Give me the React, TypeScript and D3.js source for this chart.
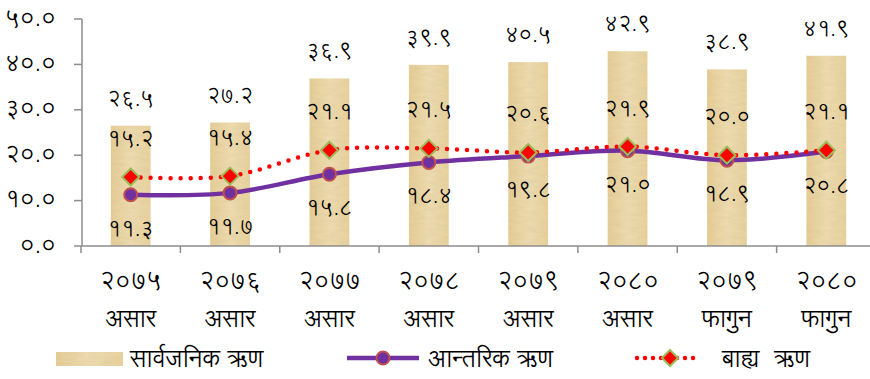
import React from "react";
import * as d3 from "d3";

const years = ["२०७५", "२०७६", "२०७७", "२०७८", "२०७९", "२०८०", "२०७९", "२०८०"];
const months = ["असार", "असार", "असार", "असार", "असार", "असार", "फागुन", "फागुन"];
const publicDebt = [26.5, 27.2, 36.9, 39.9, 40.5, 42.9, 38.9, 41.9];
const domesticDebt = [11.3, 11.7, 15.8, 18.4, 19.8, 21.0, 18.9, 20.8];
const externalDebt = [15.2, 15.4, 21.1, 21.5, 20.6, 21.9, 20.0, 21.1];
const yTicks = [0, 10, 20, 30, 40, 50];
const seriesNames = ["सार्वजनिक ऋण", "आन्तरिक ऋण", "बाह्य  ऋण"];

const devDigits = "०१२३४५६७८९";
const toDev = (s: string) => s.replace(/[0-9]/g, (c) => devDigits[+c]);
const fmt = (v: number) => toDev(v.toFixed(1));

const W = 870;
const H = 379;
const FONT = "'Lohit Devanagari', 'Noto Sans Devanagari', 'Noto Sans', sans-serif";

export default function App() {
  const idx = years.map((_, i) => String(i));
  const x = d3.scaleBand<string>().domain(idx).range([81, 876]).paddingInner(0.6).paddingOuter(0.3);
  const y = d3.scaleLinear().domain([0, 50]).range([246, 19]);
  const step = x.step();
  const cx = (i: number) => (x(String(i)) as number) + x.bandwidth() / 2;

  const line = d3
    .line<number>()
    .x((_, i) => cx(i))
    .y((d) => y(d))
    .curve(d3.curveCatmullRom.alpha(0));

  const diamond = (px: number, py: number, s: number) =>
    `M${px},${py - s} L${px + s},${py} L${px},${py + s} L${px - s},${py} Z`;

  return (
    <svg
      width={W}
      height={H}
      style={{ position: "absolute", left: 0, top: 0, background: "#fff" }}
      fontFamily={FONT}
      fontWeight={300}
    >
      <defs>
        <linearGradient id="papyrus" x1="0" y1="0" x2="1" y2="0">
          <stop offset="0" stopColor="#E6CD96" />
          <stop offset="0.5" stopColor="#EEDCB0" />
          <stop offset="1" stopColor="#E8D29E" />
        </linearGradient>
        <filter id="tex" x="0" y="0" width="1" height="1">
          <feTurbulence type="fractalNoise" baseFrequency="0.08 0.3" numOctaves="2" seed="3" result="n" />
          <feColorMatrix
            in="n"
            type="matrix"
            values="0 0 0 0 0.55  0 0 0 0 0.45  0 0 0 0 0.25  0 0 0 0.35 -0.08"
            result="c"
          />
          <feComposite in="c" in2="SourceGraphic" operator="in" result="m" />
          <feMerge>
            <feMergeNode in="SourceGraphic" />
            <feMergeNode in="m" />
          </feMerge>
        </filter>
      </defs>

      {/* bars */}
      {publicDebt.map((v, i) => (
        <rect
          key={"b" + i}
          x={x(String(i))}
          y={y(v)}
          width={x.bandwidth()}
          height={y(0) - y(v)}
          fill="url(#papyrus)"
          filter="url(#tex)"
        />
      ))}

      {/* axes */}
      <line x1={82} x2={82} y1={y(50)} y2={y(0)} stroke="#8c8c8c" strokeWidth={1.5} />
      {yTicks.map((t) => (
        <g key={"yt" + t}>
          <line x1={74} x2={82} y1={y(t)} y2={y(t)} stroke="#8c8c8c" strokeWidth={1.5} />
          <text x={56} y={y(t)} textAnchor="end" dominantBaseline="central" fontSize={23} fill="#000">
            {fmt(t)}
          </text>
        </g>
      ))}
      <line x1={82} x2={876} y1={y(0)} y2={y(0)} stroke="#8c8c8c" strokeWidth={1.5} />
      {d3.range(9).map((k) => (
        <line
          key={"xt" + k}
          x1={81 + k * step}
          x2={81 + k * step}
          y1={y(0)}
          y2={y(0) + 7}
          stroke="#8c8c8c"
          strokeWidth={1.5}
        />
      ))}

      {/* category labels */}
      {years.map((yr, i) => (
        <g key={"xl" + i}>
          <text x={cx(i)} y={282} textAnchor="middle" dominantBaseline="central" fontSize={24} fill="#000">
            {yr}
          </text>
          <text x={cx(i)} y={320} textAnchor="middle" dominantBaseline="central" fontSize={24} fill="#000">
            {months[i]}
          </text>
        </g>
      ))}

      {/* lines */}
      <path d={line(domesticDebt) || ""} fill="none" stroke="#7030A0" strokeWidth={4.5} />
      <path
        d={line(externalDebt) || ""}
        fill="none"
        stroke="#FF0000"
        strokeWidth={4.5}
        strokeDasharray="0 10"
        strokeLinecap="round"
      />
      {domesticDebt.map((v, i) => (
        <circle key={"c" + i} cx={cx(i)} cy={y(v)} r={6.5} fill="#7030A0" stroke="#C0504D" strokeWidth={2} />
      ))}
      {externalDebt.map((v, i) => (
        <path key={"d" + i} d={diamond(cx(i), y(v), 8.5)} fill="#FF0000" stroke="#9BBB59" strokeWidth={2} />
      ))}

      {/* data labels */}
      {publicDebt.map((v, i) => (
        <text key={"pl" + i} x={cx(i)} y={y(v) - 26} textAnchor="middle" dominantBaseline="central" fontSize={21}>
          {fmt(v)}
        </text>
      ))}
      {externalDebt.map((v, i) => (
        <text key={"el" + i} x={cx(i)} y={y(v) - 37} textAnchor="middle" dominantBaseline="central" fontSize={21}>
          {fmt(v)}
        </text>
      ))}
      {domesticDebt.map((v, i) => (
        <text key={"dl" + i} x={cx(i)} y={y(v) + 35} textAnchor="middle" dominantBaseline="central" fontSize={21}>
          {fmt(v)}
        </text>
      ))}

      {/* legend */}
      <rect x={56} y={352} width={67} height={14} fill="url(#papyrus)" filter="url(#tex)" />
      <text x={130} y={360} dominantBaseline="central" fontSize={24}>
        {seriesNames[0]}
      </text>
      <line x1={347} x2={419} y1={358} y2={358} stroke="#7030A0" strokeWidth={4.5} />
      <circle cx={383} cy={358} r={6.5} fill="#7030A0" stroke="#C0504D" strokeWidth={2} />
      <text x={428} y={360} dominantBaseline="central" fontSize={24}>
        {seriesNames[1]}
      </text>
      <line
        x1={637}
        x2={697}
        y1={358}
        y2={358}
        stroke="#FF0000"
        strokeWidth={4.5}
        strokeDasharray="0 8"
        strokeLinecap="round"
      />
      <path d={diamond(670, 358, 8)} fill="#FF0000" stroke="#9BBB59" strokeWidth={2} />
      <text x={722} y={360} dominantBaseline="central" fontSize={24} style={{ whiteSpace: "pre" }}>
        {seriesNames[2]}
      </text>
    </svg>
  );
}
